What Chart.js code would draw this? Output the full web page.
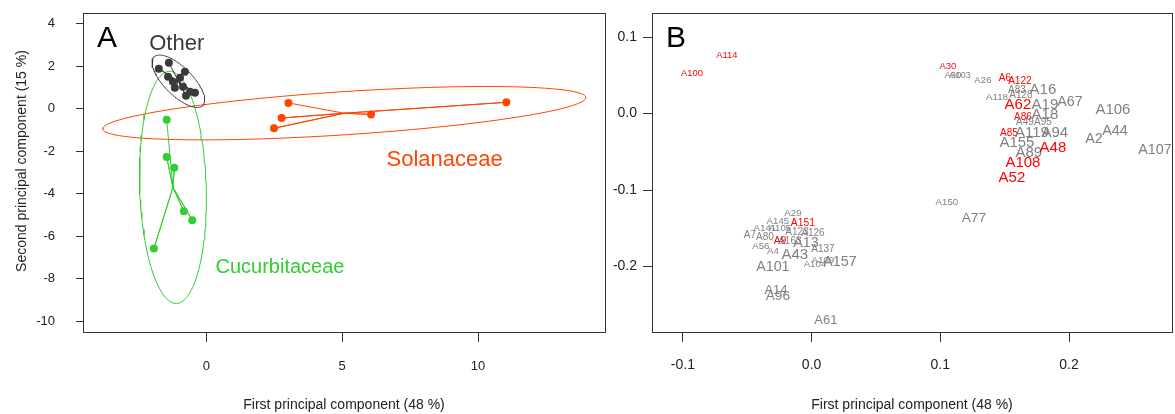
<!DOCTYPE html>
<html>
<head>
<meta charset="utf-8">
<script src="https://cdn.jsdelivr.net/npm/chart.js"></script>
<style>
  body { margin: 0; background: #fff; }
  #wrapA { position: absolute; left: 0; top: 0; }
  #wrapB { position: absolute; left: 590px; top: 0; }
</style>
</head>
<body>
<div id="wrapA"><canvas id="pcaA" width="620" height="414"></canvas></div>
<div id="wrapB"><canvas id="pcaB" width="585" height="414"></canvas></div>
<script>
var FONT = "'Liberation Sans', Arial, Helvetica, sans-serif";

// ---- Panel A: scores, grouped by host family ----
var groupNames = ['Other', 'Cucurbitaceae', 'Solanaceae'];
var groupColors = ['#3a3a3a', '#33cc33', '#ff4500'];

var otherX = [-1.38, -1.75, -0.79, -1.41, -1.23, -0.97, -1.16, -0.86, -0.60, -0.42, -0.75];
var otherY = [2.16, 1.88, 1.74, 1.50, 1.27, 1.46, 0.99, 1.03, 0.80, 0.75, 0.61];
var cucX = [-1.46, -1.46, -1.18, -0.83, -0.52, -1.93];
var cucY = [-0.52, -2.27, -2.78, -4.82, -5.24, -6.57];
var solX = [3.02, 2.77, 2.49, 6.06, 11.04];
var solY = [0.27, -0.44, -0.92, -0.27, 0.30];

// where the group names are written (data units)
var groupLabelX = [-1.09, 2.71, 8.77];
var groupLabelY = [3.05, -7.46, -2.39];

var xTicksA = [0, 5, 10];
var yTicksA = [4, 2, 0, -2, -4, -6, -8, -10];

// ---- Panel B: variable loadings ----
var bNames = ['A114','A100','A30','A90','A103','A26','A6','A122','A118','A83','A128','A16','A62','A19','A67','A18',
  'A86','A49','A95','A85','A119','A94','A155','A89','A48','A108','A52','A106','A44','A2','A107','A150','A77',
  'A29','A145','A151','A141','A105','A7','A80','A123','A126','A9','A56','A163','A13','A4','A43','A137','A101',
  'A104','A109','A157','A14','A96','A61'];
var bX = [-0.0658,-0.0930,0.1059,0.1098,0.1152,0.1331,0.1502,0.1618,0.1440,0.1595,0.1626,0.1797,0.1603,0.1813,0.2007,0.1813,
  0.1642,0.1657,0.1797,0.1533,0.1712,0.1890,0.1595,0.1688,0.1875,0.1642,0.1556,0.2341,0.2357,0.2194,0.2668,0.1051,0.1261,
  -0.0145,-0.0262,-0.0068,-0.0363,-0.0246,-0.0479,-0.0363,-0.0114,0.0010,-0.0246,-0.0394,-0.0169,-0.0044,-0.0301,-0.0130,0.0088,-0.0301,
  0.0026,0.0088,0.0220,-0.0277,-0.0262,0.0111];
var bY = [0.0758,0.0523,0.0614,0.0503,0.0503,0.0431,0.0458,0.0418,0.0209,0.0301,0.0235,0.0314,0.0118,0.0118,0.0144,-0.0013,
  -0.0046,-0.0118,-0.0118,-0.0261,-0.0248,-0.0248,-0.0379,-0.0510,-0.0444,-0.0641,-0.0837,0.0046,-0.0229,-0.0327,-0.0471,-0.1163,-0.1373,
  -0.1307,-0.1412,-0.1438,-0.1503,-0.1503,-0.1595,-0.1621,-0.1556,-0.1569,-0.1673,-0.1739,-0.1673,-0.1686,-0.1804,-0.1843,-0.1778,-0.2000,
  -0.1974,-0.1922,-0.1935,-0.2314,-0.2392,-0.2706];
// representation quality (label weight), 0..1
var bQuality = [0.06,0.06,0.06,0.06,0.06,0.11,0.17,0.17,0.11,0.17,0.17,1.0,1.0,1.0,0.89,1.0,
  0.17,0.17,0.17,0.17,1.0,1.0,1.0,1.0,1.0,1.0,1.0,1.0,0.89,0.89,0.89,0.11,0.78,
  0.11,0.11,0.22,0.11,0.11,0.17,0.17,0.17,0.17,0.22,0.11,0.17,0.89,0.11,1.0,0.17,0.89,
  0.11,0.11,0.89,0.67,0.78,0.67];
// 1 = highlighted variable (red)
var bHighlight = [1,1,1,0,0,0,1,1,0,0,0,0,1,0,0,0,
  1,0,0,1,0,0,0,0,1,1,1,0,0,0,0,0,0,
  0,0,1,0,0,0,0,0,0,1,0,0,0,0,0,0,0,
  0,0,0,0,0,0];

var xTicksB = [-0.1, 0.0, 0.1, 0.2];
var yTicksB = [0.1, 0.0, -0.1, -0.2];

function mean(a) { return a.reduce(function (s, v) { return s + v; }, 0) / a.length; }

// 95% normal data ellipse from the group covariance
function dataEllipse(xs, ys) {
  var n = xs.length, mx = mean(xs), my = mean(ys), sxx = 0, syy = 0, sxy = 0;
  for (var i = 0; i < n; i++) {
    sxx += (xs[i] - mx) * (xs[i] - mx);
    syy += (ys[i] - my) * (ys[i] - my);
    sxy += (xs[i] - mx) * (ys[i] - my);
  }
  sxx /= n - 1; syy /= n - 1; sxy /= n - 1;
  var tr = sxx + syy, det = sxx * syy - sxy * sxy;
  var d = Math.sqrt(Math.max(tr * tr / 4 - det, 0));
  var l1 = tr / 2 + d, l2 = Math.max(tr / 2 - d, 0);
  var ang = Math.atan2(l1 - sxx, sxy);
  var r = Math.sqrt(5.991);
  var a = r * Math.sqrt(l1), b = r * Math.sqrt(l2), pts = [];
  for (var k = 0; k <= 120; k++) {
    var u = 2 * Math.PI * k / 120;
    pts.push({
      x: mx + a * Math.cos(u) * Math.cos(ang) - b * Math.sin(u) * Math.sin(ang),
      y: my + a * Math.cos(u) * Math.sin(ang) + b * Math.sin(u) * Math.cos(ang)
    });
  }
  return pts;
}

var groupX = [otherX, cucX, solX];
var groupY = [otherY, cucY, solY];
var pointSets = [], starSets = [], ellipseSets = [];
groupNames.forEach(function (name, g) {
  var xs = groupX[g], ys = groupY[g];
  var cx = mean(xs), cy = mean(ys);
  var pts = xs.map(function (x, i) { return {x: x, y: ys[i]}; });
  var star = [];
  pts.forEach(function (p) { star.push(p); star.push({x: cx, y: cy}); });
  pointSets.push({label: name, data: pts, pointRadius: 4, pointBackgroundColor: groupColors[g],
    pointBorderColor: groupColors[g], pointBorderWidth: 0, showLine: false});
  starSets.push({label: name + ' star', data: star, showLine: true, pointRadius: 0,
    borderColor: groupColors[g], borderWidth: 1});
  ellipseSets.push({label: name + ' ellipse', data: dataEllipse(xs, ys), showLine: true, pointRadius: 0,
    borderColor: groupColors[g], borderWidth: 1});
});

var framePlugin = {
  id: 'frame',
  afterDraw: function (chart) {
    var a = chart.chartArea, ctx = chart.ctx;
    ctx.save();
    ctx.strokeStyle = '#333';
    ctx.lineWidth = 1;
    ctx.strokeRect(Math.round(a.left) + 0.5, Math.round(a.top) + 0.5,
      Math.round(a.right - a.left), Math.round(a.bottom - a.top));
    ctx.fillStyle = '#000';
    ctx.font = '30px ' + FONT;
    ctx.textAlign = 'center';
    ctx.textBaseline = 'middle';
    ctx.fillText(chart.options.plugins.frame.letter, a.left + 24, a.top + 26);
    ctx.restore();
  }
};

var groupTextPlugin = {
  id: 'groupText',
  afterDatasetsDraw: function (chart) {
    var ctx = chart.ctx, xs = chart.scales.x, ys = chart.scales.y;
    var sizes = [22, 20, 22];
    ctx.save();
    ctx.textAlign = 'center';
    ctx.textBaseline = 'middle';
    groupNames.forEach(function (name, g) {
      ctx.font = sizes[g] + 'px ' + FONT;
      ctx.fillStyle = groupColors[g];
      ctx.fillText(name, xs.getPixelForValue(groupLabelX[g]), ys.getPixelForValue(groupLabelY[g]));
    });
    // y axis title
    ctx.translate(22, 161);
    ctx.rotate(-Math.PI / 2);
    ctx.font = '14px ' + FONT;
    ctx.fillStyle = '#222';
    ctx.fillText('Second principal component (15 %)', 0, 0);
    ctx.restore();
  }
};

var varLabelPlugin = {
  id: 'varLabels',
  afterDatasetsDraw: function (chart) {
    var ctx = chart.ctx, xs = chart.scales.x, ys = chart.scales.y;
    ctx.save();
    ctx.textAlign = 'center';
    ctx.textBaseline = 'middle';
    bNames.forEach(function (name, i) {
      ctx.font = (9 + 6 * bQuality[i]).toFixed(1) + 'px ' + FONT;
      ctx.fillStyle = bHighlight[i] ? '#ff0000' : '#808080';
      ctx.fillText(name, xs.getPixelForValue(bX[i]), ys.getPixelForValue(bY[i]));
    });
    ctx.restore();
  }
};

function axis(opts) {
  return {
    type: 'linear',
    min: opts.min,
    max: opts.max,
    afterBuildTicks: function (s) { s.ticks = opts.ticks.map(function (v) { return {value: v}; }); },
    afterFit: function (s) {
      if (opts.width) s.width = opts.width;
      if (opts.height) s.height = opts.height;
      s.paddingTop = 0; s.paddingBottom = 0; s.paddingLeft = 0; s.paddingRight = 0;
    },
    grid: {display: true, drawOnChartArea: false, drawTicks: true, tickLength: opts.tickLength, color: '#333', lineWidth: 1},
    border: {display: false},
    ticks: {
      autoSkip: false, maxRotation: 0, padding: opts.padding, color: '#222',
      font: {family: FONT, size: opts.fontSize},
      callback: opts.format
    },
    title: opts.title ? {display: true, text: opts.title, color: '#222', padding: 0,
      font: {family: FONT, size: 14}} : {display: false}
  };
}

new Chart(document.getElementById('pcaA'), {
  type: 'scatter',
  data: {datasets: pointSets.concat(starSets, ellipseSets)},
  options: {
    responsive: false,
    animation: false,
    events: [],
    layout: {padding: {left: 0, top: 13, right: 15, bottom: 0}},
    plugins: {legend: {display: false}, tooltip: {enabled: false}, frame: {letter: 'A'}},
    scales: {
      x: axis({min: -4.54, max: 14.67, ticks: xTicksA, height: 82, tickLength: 10, padding: 17, fontSize: 13,
        format: function (v) { return String(v); }, title: 'First principal component (48 %)'}),
      y: axis({min: -10.5, max: 4.5, ticks: yTicksA, width: 83, tickLength: 7, padding: 21, fontSize: 13,
        format: function (v) { return String(v); }})
    }
  },
  plugins: [framePlugin, groupTextPlugin]
});

new Chart(document.getElementById('pcaB'), {
  type: 'scatter',
  data: {datasets: [{label: 'variables', data: bX.map(function (x, i) { return {x: x, y: bY[i]}; }), pointRadius: 0}]},
  options: {
    responsive: false,
    animation: false,
    events: [],
    layout: {padding: {left: 0, top: 13, right: 3, bottom: 0}},
    plugins: {legend: {display: false}, tooltip: {enabled: false}, frame: {letter: 'B'}},
    scales: {
      x: axis({min: -0.124, max: 0.280, ticks: xTicksB, height: 82, tickLength: 10, padding: 15, fontSize: 14,
        format: function (v) { return v.toFixed(1); }, title: 'First principal component (48 %)'}),
      y: axis({min: -0.2854, max: 0.1314, ticks: yTicksB, width: 62, tickLength: 9, padding: 6, fontSize: 14,
        format: function (v) { return v.toFixed(1); }})
    }
  },
  plugins: [framePlugin, varLabelPlugin]
});
</script>
</body>
</html>
